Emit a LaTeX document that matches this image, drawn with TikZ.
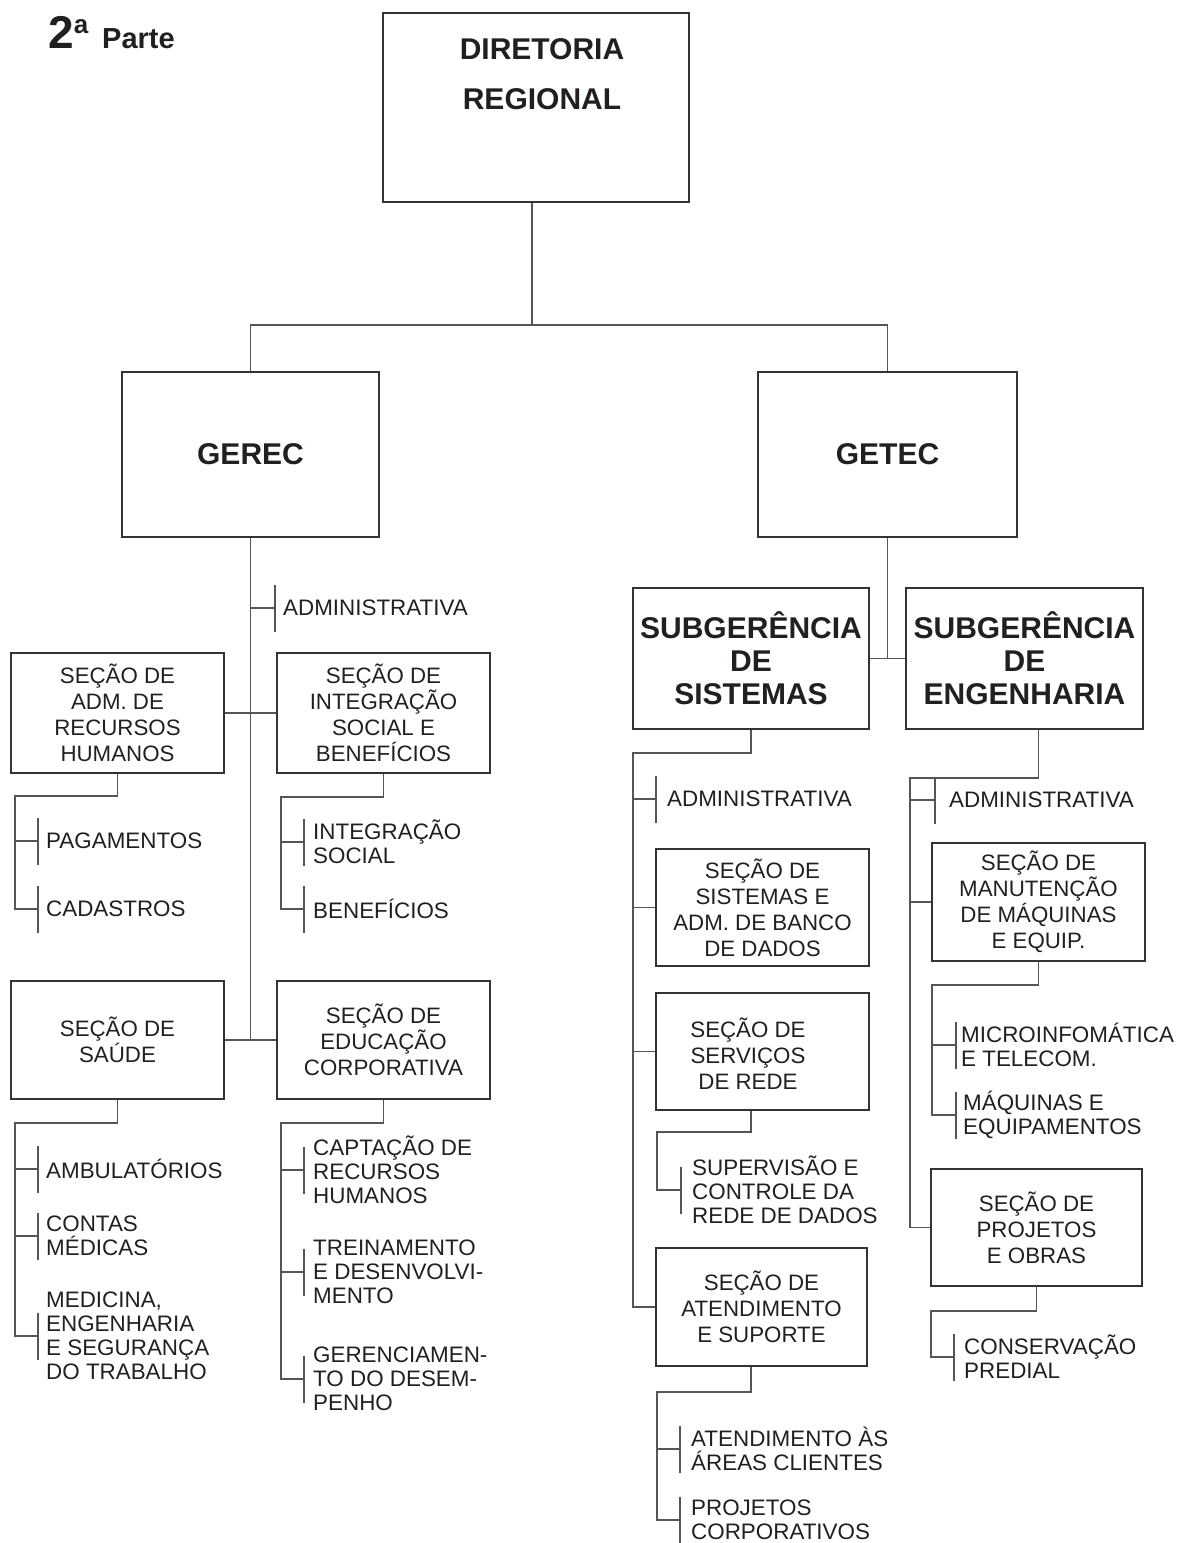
\documentclass[tikz,border=0pt]{standalone}
\usepackage{fontspec}
\setmainfont{Liberation Sans}
\usetikzlibrary{calc}
\definecolor{txt}{HTML}{231F20}
\definecolor{boxc}{HTML}{333333}
\definecolor{linec}{HTML}{555555}
\newcommand\regtxt{\fontsize{22.3}{26}\selectfont}
\newcommand\leaftxt{\fontsize{22.4}{24}\selectfont}
\newcommand\boldtxt{\fontsize{30}{33}\selectfont\bfseries}
\begin{document}
\begin{tikzpicture}[x=1pt,y=-1pt,
  box/.style={draw=boxc, line width=1.3pt, inner sep=0pt, align=center, text=txt, font=\regtxt},
  bbox/.style={box, font=\boldtxt},
  boxtext/.style={inner sep=0pt, align=center, text=txt, font=\regtxt},
  leaf/.style={anchor=west, inner ysep=0pt, inner xsep=#1, align=left, font=\leaftxt, text=txt},
  leaf/.default=8pt,
  conn/.style={draw=linec, line width=1.3pt},
]
\useasboundingbox (0,0) rectangle (1178,1543);

% title
\node[anchor=base west, inner sep=0pt, text=txt] (title) at (48,48)
  {\fontsize{46}{46}\selectfont\bfseries 2\raisebox{15pt}{\fontsize{26}{26}\selectfont a}\hspace{14pt}\fontsize{29}{29}\selectfont Parte};

% top level
\node[box, minimum width=306pt, minimum height=189pt] (dir) at (536,107.5) {};
\node[inner sep=0pt, align=center, text=txt, font=\fontsize{30}{50}\selectfont\bfseries] (dirtext) at (542,74) {DIRETORIA\\REGIONAL};
\node[bbox, minimum width=257pt, minimum height=165pt] (gerec) at (250.5,454.5) {GEREC};
\node[bbox, minimum width=259pt, minimum height=165pt] (getec) at (887.5,454.5) {GETEC};

% GEREC sections
\node[box, minimum width=213pt, minimum height=120pt] (rh) at (117.5,713) {SEÇÃO DE\\ADM. DE\\RECURSOS\\HUMANOS};
\node[box, minimum width=213pt, minimum height=120pt] (int) at (383.5,713) {SEÇÃO DE\\INTEGRAÇÃO\\SOCIAL E\\BENEFÍCIOS};
\node[box, minimum width=213pt, minimum height=118pt] (sau) at (117.5,1040) {SEÇÃO DE\\SAÚDE};
\node[box, minimum width=213pt, minimum height=118pt] (edu) at (383.5,1040) {SEÇÃO DE\\EDUCAÇÃO\\CORPORATIVA};

% GETEC subgerencias
\node[bbox, minimum width=236pt, minimum height=141pt] (sis) at (751,658.5) {SUBGERÊNCIA\\DE\\SISTEMAS};
\node[bbox, minimum width=237pt, minimum height=141pt] (eng) at (1024.5,658.5) {SUBGERÊNCIA\\DE\\ENGENHARIA};

% Sistemas sections
\node[box, minimum width=213pt, minimum height=117pt] (sbd) at (762.5,907.5) {SEÇÃO DE\\SISTEMAS E\\ADM. DE BANCO\\DE DADOS};
\node[box, minimum width=213pt, minimum height=117pt] (srv) at (762.5,1051.5) {};
\node[boxtext] (srvtext) at (748,1054) {SEÇÃO DE\\SERVIÇOS\\DE REDE};
\node[box, minimum width=211pt, minimum height=118pt] (ate) at (761.5,1307) {SEÇÃO DE\\ATENDIMENTO\\E SUPORTE};

% Engenharia sections
\node[box, minimum width=213pt, minimum height=118pt] (man) at (1038.5,902) {SEÇÃO DE\\MANUTENÇÃO\\DE MÁQUINAS\\E EQUIP.};
\node[box, minimum width=211pt, minimum height=117pt] (prj) at (1036.5,1227.5) {SEÇÃO DE\\PROJETOS\\E OBRAS};

% leaves
\node[leaf] (adm1) at (275,608) {ADMINISTRATIVA};
\node[leaf] (pag) at (38,841) {PAGAMENTOS};
\node[leaf] (cad) at (38,909) {CADASTROS};
\node[leaf=9pt] (isoc) at (304,842) {INTEGRAÇÃO\\SOCIAL};
\node[leaf=9pt] (ben) at (304,909) {BENEFÍCIOS};
\node[leaf] (amb) at (38,1169) {AMBULATÓRIOS};
\node[leaf] (cmed) at (38,1236) {CONTAS\\MÉDICAS};
\node[leaf] (med) at (38,1336) {MEDICINA,\\ENGENHARIA\\E SEGURANÇA\\DO TRABALHO};
\node[leaf=9pt] (cap) at (304,1170) {CAPTAÇÃO DE\\RECURSOS\\HUMANOS};
\node[leaf=9pt] (tre) at (304,1272) {TREINAMENTO\\E DESENVOLVI-\\MENTO};
\node[leaf=9pt] (ger) at (304,1379) {GERENCIAMEN-\\TO DO DESEM-\\PENHO};
\node[leaf=11pt] (adm2) at (656,799) {ADMINISTRATIVA};
\node[leaf=11pt] (sup) at (681,1190) {SUPERVISÃO E\\CONTROLE DA\\REDE DE DADOS};
\node[leaf=11pt] (aac) at (680,1449) {ATENDIMENTO ÀS\\ÁREAS CLIENTES};
\node[leaf=11pt] (pc) at (680,1520) {PROJETOS\\CORPORATIVOS};
\node[leaf=14pt] (adm3) at (935,800) {ADMINISTRATIVA};
\node[leaf=5pt] (mic) at (956,1045) {MICROINFOMÁTICA\\E TELECOM.};
\node[leaf=7pt] (maq) at (956,1115) {MÁQUINAS E\\EQUIPAMENTOS};
\node[leaf=10pt] (cons) at (954,1357) {CONSERVAÇÃO\\PREDIAL};

% leaf bars
\foreach \n in {adm1,pag,cad,isoc,ben,amb,cmed,med,cap,tre,ger,adm2,sup,aac,pc,adm3,mic,maq,cons}
  \draw[conn] ($(\n.west)+(0,-23.5)$) -- ($(\n.west)+(0,23.5)$);

% top connectors
\coordinate (j0) at (532,325);
\draw[conn] (j0 |- dir.south) -- (j0);
\draw[conn] (gerec.north) |- (j0) -| (getec.north);

% GEREC trunk
\coordinate (gt) at (250.5,1040);
\draw[conn] (gerec.south) -- (gt);
\draw[conn] (rh.east) -- (int.west);
\draw[conn] (sau.east) -- (edu.west);
\draw[conn] (gerec.south |- adm1.west) -- (adm1.west);

% RH subtree
\coordinate (rhT) at (15,796);
\draw[conn] (rh.south) |- (rhT) -- (rhT |- cad.west) -- (cad.west);
\draw[conn] (rhT |- pag.west) -- (pag.west);

% Integracao subtree
\coordinate (intT) at (281,797);
\draw[conn] (int.south) |- (intT) -- (intT |- ben.west) -- (ben.west);
\draw[conn] (intT |- isoc.west) -- (isoc.west);

% Saude subtree
\coordinate (sauT) at (15,1123);
\draw[conn] (sau.south) |- (sauT) -- (sauT |- med.west) -- (med.west);
\draw[conn] (sauT |- amb.west) -- (amb.west);
\draw[conn] (sauT |- cmed.west) -- (cmed.west);

% Educacao subtree
\coordinate (eduT) at (281,1123);
\draw[conn] (edu.south) |- (eduT) -- (eduT |- ger.west) -- (ger.west);
\draw[conn] (eduT |- cap.west) -- (cap.west);
\draw[conn] (eduT |- tre.west) -- (tre.west);

% GETEC
\draw[conn] (getec.south) -- (getec.south |- sis.east);
\draw[conn] (sis.east) -- (sis.east -| eng.west);

% Sistemas subtree
\coordinate (sisT) at (633,753);
\draw[conn] (sis.south) |- (sisT) -- (sisT |- ate.west) -- (ate.west);
\draw[conn] (sisT |- adm2.west) -- (adm2.west);
\draw[conn] (sisT |- sbd.west) -- (sbd.west);
\draw[conn] (sisT |- srv.west) -- (srv.west);

% Servicos subtree
\coordinate (srvT) at (657,1132);
\draw[conn] (srv.south -| sis.south) |- (srvT) -- (srvT |- sup.west) -- (sup.west);

% Atendimento subtree
\coordinate (ateT) at (657,1392);
\draw[conn] (ate.south -| sis.south) |- (ateT) -- (ateT |- pc.west) -- (pc.west);
\draw[conn] (ateT |- aac.west) -- (aac.west);

% Engenharia subtree
\coordinate (engT) at (910,778);
\draw[conn] (eng.south -| man.south) |- (engT) -- (engT |- prj.west) -- (prj.west);
\draw[conn] (engT |- adm3.west) -- (adm3.west);
\draw[conn] (engT |- man.west) -- (man.west);

% Manutencao subtree
\coordinate (manT) at (932,985);
\draw[conn] (man.south) |- (manT) -- (manT |- maq.west) -- (maq.west);
\draw[conn] (manT |- mic.west) -- (mic.west);

% Projetos subtree
\coordinate (prjT) at (931,1311);
\draw[conn] (prj.south) |- (prjT) -- (prjT |- cons.west) -- (cons.west);
\end{tikzpicture}
\end{document}
